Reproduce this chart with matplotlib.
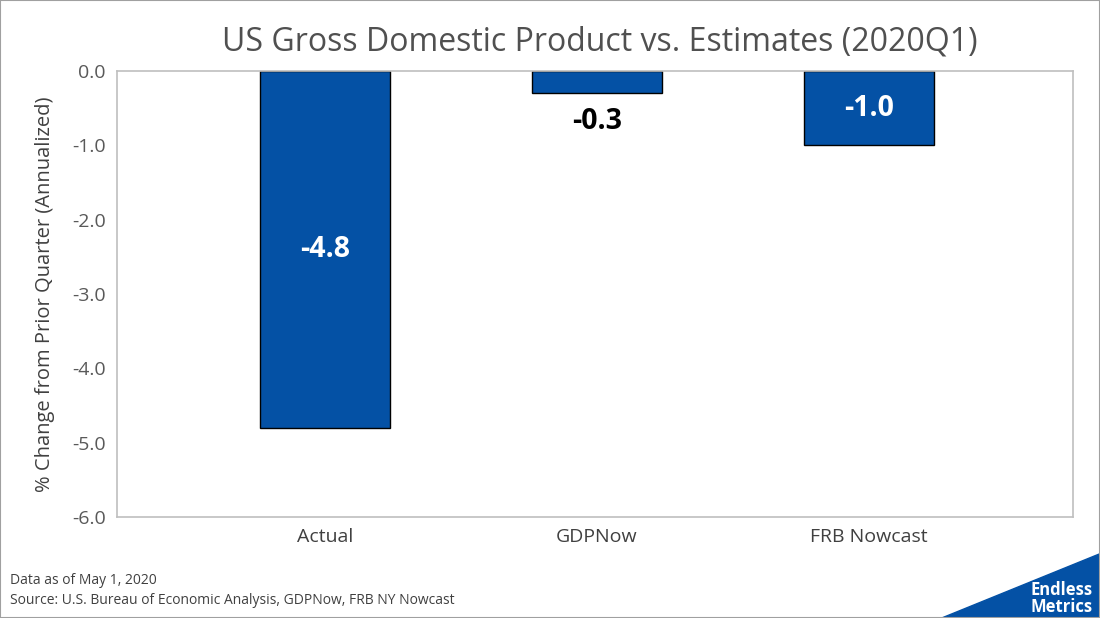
import matplotlib
matplotlib.use("Agg")
import matplotlib.pyplot as plt
from matplotlib.patches import Polygon, Rectangle

plt.rcParams['font.family'] = ['Open Sans', 'DejaVu Sans']

categories = ["Actual", "GDPNow", "FRB Nowcast"]
values = [-4.8, -0.3, -1.0]
labels = ["-4.8", "-0.3", "-1.0"]
yticks = [0, -1, -2, -3, -4, -5, -6]

fig = plt.figure(figsize=(11, 6.18), dpi=100)
ax = fig.add_axes([117/1100, 1-517/618, (1073-117)/1100, (517-71)/618])
blue = "#0451A5"
x = range(len(categories))
ax.bar(x, values, width=0.48, color=blue, edgecolor="black", linewidth=1)
ax.set_xlim(-0.765, 2.75)
ax.set_ylim(-6, 0)
ax.set_yticks(yticks)
ax.set_yticklabels([f"{v:.1f}" for v in yticks], fontsize=14, color="#595959")
ax.set_xticks(list(x))
ax.set_xticklabels(categories, fontsize=14, color="#404040")
ax.tick_params(length=0, pad=8)
for s in ax.spines.values():
    s.set_color("#BFBFBF"); s.set_linewidth(1.2)
ax.set_ylabel("% Change from Prior Quarter (Annualized)", fontsize=14.5, color="#404040", labelpad=12)

ax.text(0, -2.4, labels[0], ha="center", va="center", fontsize=20.5, fontweight="bold", color="white")
ax.text(1, -0.68, labels[1], ha="center", va="center", fontsize=20.5, fontweight="bold", color="black")
ax.text(2, -0.5, labels[2], ha="center", va="center", fontsize=20.5, fontweight="bold", color="white")

fig.text(0.545, 1-42/618, "US Gross Domestic Product vs. Estimates (2020Q1)", ha="center", va="center",
         fontsize=23, color="#505050")
fig.text(10/1100, 1-580/618, "Data as of May 1, 2020", fontsize=10, color="#404040", va="center")
fig.text(10/1100, 1-601/618, "Source: U.S. Bureau of Economic Analysis, GDPNow, FRB NY Nowcast", fontsize=10, color="#404040", va="center")

fig.patches.append(Polygon([[940/1100, 0], [1, 0], [1, 1-553/618]], closed=True,
                           transform=fig.transFigure, color=blue))
fig.text(1093/1100, 1-590/618, "Endless", ha="right", va="center", fontsize=12, fontweight="bold", color="white")
fig.text(1093/1100, 1-607/618, "Metrics", ha="right", va="center", fontsize=12, fontweight="bold", color="white")
fig.patches.append(Rectangle((0, 0), 1, 1, transform=fig.transFigure, fill=False,
                             edgecolor="#A0A0A0", linewidth=1.5))
fig.savefig("out.png", dpi=100)
